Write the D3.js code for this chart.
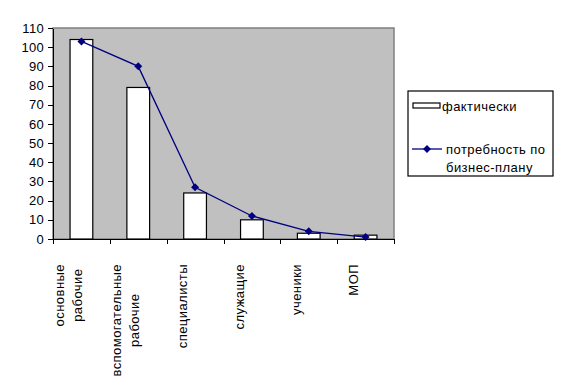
<!DOCTYPE html>
<html lang="ru">
<head>
<meta charset="utf-8">
<script src="https://d3js.org/d3.v7.min.js"></script>
<style>
  body { margin: 0; background: #fff; }
  svg text { font-family: Arial, "Liberation Sans", sans-serif; font-size: 13px; letter-spacing: 0.45px; fill: #000; }
  .axis path, .axis line { stroke: #000; shape-rendering: crispEdges; }
</style>
</head>
<body>
<svg id="chart" width="562" height="387"></svg>
<script>
// categories (multi-line labels), values
var categories = [["основные", "рабочие"], ["вспомогательные", "рабочие"], ["специалисты"], ["служащие"], ["ученики"], ["МОП"]];
var actual = [104, 79, 24, 10, 3, 2];
var plan = [103, 90, 27, 12, 4, 1];
var yTicks = [0, 10, 20, 30, 40, 50, 60, 70, 80, 90, 100, 110];
var seriesNames = ["фактически", ["потребность по", "бизнес-плану"]];

var svg = d3.select("#chart");
var plot = {left: 53, right: 394, top: 28, bottom: 239};

var idx = d3.range(categories.length);
var x = d3.scaleBand().domain(idx).range([plot.left, plot.right])
    .paddingInner(0.6).paddingOuter(0.3);
var xb = d3.scaleLinear().domain([0, categories.length]).range([plot.left, plot.right]);
var y = d3.scaleLinear().domain([0, 110]).range([plot.bottom, plot.top]);

// plot area
svg.append("rect")
    .attr("x", plot.left).attr("y", plot.top)
    .attr("width", plot.right - plot.left).attr("height", plot.bottom - plot.top)
    .attr("fill", "#c0c0c0").attr("stroke", "#808080").attr("stroke-width", 1.5);

// bars
svg.selectAll("rect.bar")
  .data(actual)
  .enter().append("rect")
    .attr("class", "bar")
    .attr("x", function(d, i) { return x(i); })
    .attr("y", function(d) { return y(d); })
    .attr("width", x.bandwidth())
    .attr("height", function(d) { return y(0) - y(d); })
    .attr("fill", "#fff").attr("stroke", "#000").attr("stroke-width", 1.2);

// plan line
var cx = function(i) { return x(i) + x.bandwidth() / 2; };
var line = d3.line()
    .x(function(d, i) { return cx(i); })
    .y(function(d) { return y(d); });

svg.append("path")
    .datum(plan)
    .attr("d", line)
    .attr("fill", "none").attr("stroke", "#000080").attr("stroke-width", 1.3);

var diamond = "M0,-4L4,0L0,4L-4,0Z";
svg.selectAll("path.mk")
  .data(plan)
  .enter().append("path")
    .attr("class", "mk")
    .attr("d", diamond)
    .attr("transform", function(d, i) { return "translate(" + cx(i) + "," + y(d) + ")"; })
    .attr("fill", "#000080");

// axes
svg.append("g")
    .attr("class", "axis")
    .attr("transform", "translate(" + plot.left + ",0)")
    .call(d3.axisLeft(y).tickValues(yTicks).tickSize(5).tickSizeOuter(0).tickPadding(4))
    .call(function(g) { g.select(".domain").attr("stroke-width", 1.3); })
    .selectAll("text").style("font-size", "13px").style("letter-spacing", "0.3px");

svg.append("g")
    .attr("class", "axis")
    .attr("transform", "translate(0," + plot.bottom + ")")
    .call(d3.axisBottom(xb).tickValues(d3.range(categories.length + 1)).tickSize(5).tickSizeOuter(0).tickFormat(""))
    .call(function(g) { g.select(".domain").attr("stroke-width", 1.3); });

// rotated category labels
var labels = svg.selectAll("g.lab")
  .data(categories)
  .enter().append("g")
    .attr("class", "lab")
    .attr("transform", function(d, i) {
      return "translate(" + (cx(i) - 12.5 - (d.length - 1) * 9) + ",264) rotate(-90)";
    });

labels.each(function(d) {
  var g = d3.select(this);
  var texts = g.selectAll("text").data(d).enter().append("text")
      .attr("y", function(t, j) { return j * 18; })
      .attr("dy", "0.35em")
      .text(function(t) { return t; });
  var maxLen = d3.max(texts.nodes(), function(n) { return n.getComputedTextLength(); });
  texts.attr("text-anchor", "middle").attr("x", -maxLen / 2);
});

// legend
var lg = svg.append("g");
lg.append("rect")
    .attr("x", 408).attr("y", 91).attr("width", 145).attr("height", 85)
    .attr("fill", "#fff").attr("stroke", "#000").attr("stroke-width", 1.2);
lg.append("rect")
    .attr("x", 413).attr("y", 103).attr("width", 27).attr("height", 5)
    .attr("fill", "#fff").attr("stroke", "#000").attr("stroke-width", 1.2);
lg.append("text").attr("x", 442).attr("y", 106).attr("dy", "0.35em").text(seriesNames[0]);
lg.append("line")
    .attr("x1", 412).attr("x2", 442).attr("y1", 149).attr("y2", 149)
    .attr("stroke", "#000080").attr("stroke-width", 1.3);
lg.append("path").attr("d", diamond).attr("transform", "translate(427,149)").attr("fill", "#000080");
lg.selectAll("text.s2")
  .data(seriesNames[1])
  .enter().append("text")
    .attr("class", "s2")
    .attr("x", 446)
    .attr("y", function(d, i) { return 149 + i * 18; })
    .attr("dy", "0.35em")
    .text(function(d) { return d; });
</script>
</body>
</html>
